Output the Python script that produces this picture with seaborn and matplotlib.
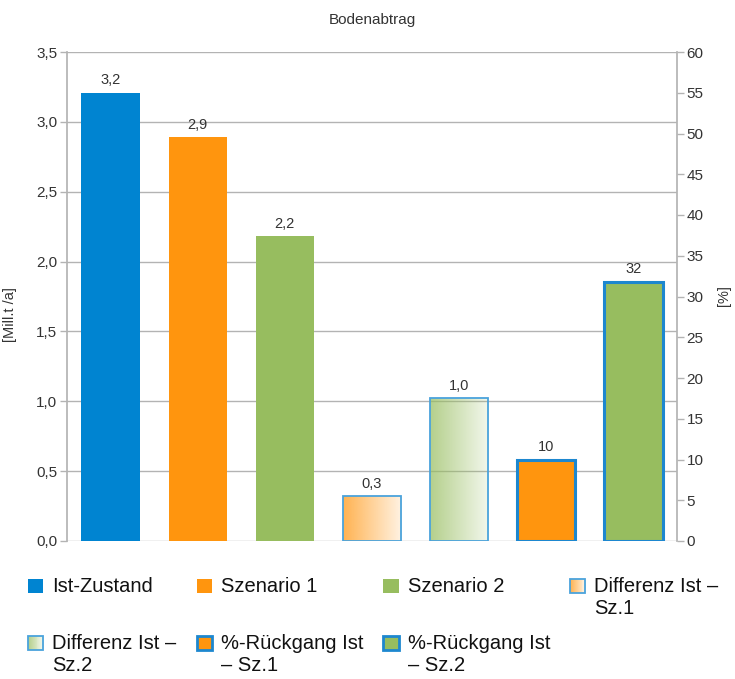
import matplotlib
matplotlib.use("Agg")
import matplotlib.pyplot as plt
import numpy as np
import pandas as pd
import seaborn as sns
from matplotlib.patches import Rectangle
from matplotlib.legend_handler import HandlerBase
from matplotlib.colors import to_rgb
from matplotlib.ticker import FuncFormatter, MultipleLocator

# ---- data ----
categories = [
    "Ist-Zustand",
    "Szenario 1",
    "Szenario 2",
    "Differenz Ist – Sz.1",
    "Differenz Ist – Sz.2",
    "%-Rückgang Ist – Sz.1",
    "%-Rückgang Ist – Sz.2",
]
# soil loss in million t per year (left axis)
abtrag_categories = categories[:5]
abtrag_mio_t = [3.21, 2.89, 2.18, 0.32, 1.02]
# percentage decrease (right axis)
rueckgang_categories = categories[5:]
rueckgang_pct = [10.0, 31.8]

legend_labels = [
    "Ist-Zustand\n ",
    "Szenario 1\n ",
    "Szenario 2\n ",
    "Differenz Ist –\nSz.1",
    "Differenz Ist –\nSz.2",
    "%-Rückgang Ist\n– Sz.1",
    "%-Rückgang Ist\n– Sz.2",
]

BLUE = "#0084d1"
ORANGE = "#ff950e"
GREEN = "#97bd5f"
EDGE_LIGHT = "#4aa3dc"
EDGE_DARK = "#1d87cf"
GRID = "#b3b3b3"
TEXT = "#333333"

palette = {
    categories[0]: BLUE,
    categories[1]: ORANGE,
    categories[2]: GREEN,
    categories[3]: ORANGE,
    categories[4]: GREEN,
    categories[5]: ORANGE,
    categories[6]: GREEN,
}
gradient_cats = {3: ORANGE, 4: GREEN}

sns.set_theme(style="white")
plt.rcParams["font.family"] = ["Liberation Sans", "DejaVu Sans"]

fig = plt.figure(figsize=(7.35, 6.79), dpi=100)
ax = fig.add_axes([67 / 735, 1 - 541 / 679, 610 / 735, 489 / 679])

df_left = pd.DataFrame({"Kategorie": abtrag_categories, "Wert": abtrag_mio_t})
df_right = pd.DataFrame({"Kategorie": rueckgang_categories, "Wert": rueckgang_pct})

sns.barplot(data=df_left, x="Kategorie", y="Wert", hue="Kategorie",
            order=categories, palette={k: palette[k] for k in abtrag_categories},
            width=0.67, saturation=1, legend=False, ax=ax, zorder=2)

ax2 = ax.twinx()
sns.barplot(data=df_right, x="Kategorie", y="Wert", hue="Kategorie",
            order=categories, palette={k: palette[k] for k in rueckgang_categories},
            width=0.67, saturation=1, legend=False, ax=ax2, zorder=2)


def gradient_rgba(color, n=64, a0=0.72, a1=0.12):
    rgb = np.array(to_rgb(color))
    img = np.zeros((1, n, 4))
    img[0, :, :3] = rgb
    img[0, :, 3] = np.linspace(a0, a1, n)
    return img


# style the bars on the left axis
for patch in list(ax.patches):
    w = patch.get_width()
    if w <= 0:
        continue
    idx = int(round(patch.get_x() + w / 2))
    if idx in gradient_cats:
        x0, h = patch.get_x(), patch.get_height()
        patch.set_facecolor("none")
        patch.set_edgecolor(EDGE_LIGHT)
        patch.set_linewidth(1.3)
        patch.set_zorder(3)
        im = ax.imshow(gradient_rgba(gradient_cats[idx]), extent=[x0, x0 + w, 0, h],
                       aspect="auto", interpolation="bilinear", zorder=2.5)
        im.set_clip_path(patch)
    else:
        patch.set_edgecolor("none")

for patch in ax2.patches:
    if patch.get_width() <= 0:
        continue
    patch.set_edgecolor(EDGE_DARK)
    patch.set_linewidth(2.2)

ax.set_xlim(-0.5, 6.5)
ax.set_ylim(0, 3.5)
ax2.set_ylim(0, 60)


def comma(v, _=None):
    return f"{v:.1f}".replace(".", ",")


# value labels
for cat, v in zip(abtrag_categories, abtrag_mio_t):
    ax.annotate(comma(v), (categories.index(cat), v), xytext=(0, 4),
                textcoords="offset points", ha="center", va="bottom",
                fontsize=10.5, color=TEXT)
for cat, v in zip(rueckgang_categories, rueckgang_pct):
    ax2.annotate(f"{v:.0f}", (categories.index(cat), v), xytext=(0, 4),
                 textcoords="offset points", ha="center", va="bottom",
                 fontsize=10.5, color=TEXT)

# axes styling
ax.yaxis.set_major_locator(MultipleLocator(0.5))
ax.yaxis.set_major_formatter(FuncFormatter(comma))
ax2.yaxis.set_major_locator(MultipleLocator(5))
ax.grid(axis="y", color=GRID, linewidth=1)
ax.set_axisbelow(True)
ax2.patch.set_visible(False)
for a in (ax, ax2):
    a.set_xlabel("")
    a.tick_params(axis="x", bottom=False, labelbottom=False)
    a.spines["top"].set_visible(False)
    a.spines["bottom"].set_visible(False)
ax.spines["right"].set_visible(False)
ax.spines["left"].set_color(GRID)
ax2.spines["left"].set_visible(False)
ax2.spines["right"].set_color(GRID)
ax.tick_params(axis="y", left=True, length=5, width=1, color=GRID,
               labelsize=11, labelcolor=TEXT, pad=2)
ax2.tick_params(axis="y", right=True, length=5, width=1, color=GRID,
                labelsize=11, labelcolor=TEXT, pad=2)
ax.set_ylabel("[Mill.t /a]", fontsize=10.5, color=TEXT)
ax.yaxis.set_label_coords(-50 / 610, (541 - 315) / 489)
ax2.set_ylabel("[%]", fontsize=10.5, color=TEXT)
ax2.yaxis.set_label_coords(1 + 40 / 610, (541 - 296) / 489)
ax.set_title("Bodenabtrag", fontsize=11, color=TEXT, pad=20)


# legend handles: square swatches aligned with the first text line
LEG_FS = 14.5
LIFT = 0.6 * LEG_FS


class SwatchHandler(HandlerBase):
    def __init__(self, color, edge="none", lw=0.0, gradient=False):
        super().__init__()
        self.color = color
        self.edge = edge
        self.lw = lw
        self.gradient = gradient

    def create_artists(self, legend, orig_handle, xdescent, ydescent,
                       width, height, fontsize, trans):
        x0, y0 = -xdescent, -ydescent + LIFT
        arts = []
        if self.gradient:
            n = 16
            rgb = np.array(to_rgb(self.color))
            for i, a in enumerate(np.linspace(0.72, 0.12, n)):
                c = rgb * a + (1 - a)
                arts.append(Rectangle((x0 + width * i / n, y0), width / n + 0.3,
                                      height, facecolor=c, edgecolor="none",
                                      transform=trans))
            arts.append(Rectangle((x0, y0), width, height, facecolor="none",
                                  edgecolor=self.edge, linewidth=self.lw,
                                  transform=trans))
        else:
            arts.append(Rectangle((x0, y0), width, height, facecolor=self.color,
                                  edgecolor=self.edge, linewidth=self.lw,
                                  transform=trans))
        return arts


handles = [Rectangle((0, 0), 1, 1) for _ in legend_labels]
handlers = [
    SwatchHandler(BLUE),
    SwatchHandler(ORANGE),
    SwatchHandler(GREEN),
    SwatchHandler(ORANGE, EDGE_LIGHT, 1.3, gradient=True),
    SwatchHandler(GREEN, EDGE_LIGHT, 1.3, gradient=True),
    SwatchHandler(ORANGE, EDGE_DARK, 2.0),
    SwatchHandler(GREEN, EDGE_DARK, 2.0),
]
# legend fills column by column; reorder so entries read row by row
order = [0, 4, 1, 5, 2, 6, 3]
leg = fig.legend([handles[i] for i in order], [legend_labels[i] for i in order],
                 loc="upper left", bbox_to_anchor=(20 / 735, 1 - 569 / 679),
                 ncol=4, frameon=False, fontsize=LEG_FS,
                 handlelength=0.75, handleheight=0.75, handletextpad=0.45,
                 columnspacing=1.0, labelspacing=0.8, borderaxespad=0,
                 handler_map={h: hd for h, hd in zip(handles, handlers)})
for t in leg.get_texts():
    t.set_color("#111111")

fig.savefig("out.png", dpi=100)
